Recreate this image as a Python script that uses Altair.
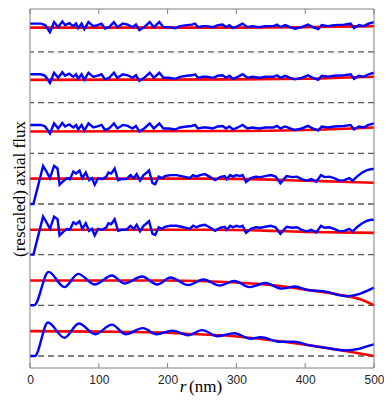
import altair as alt
import pandas as pd

# ---- data (r in nm, rescaled flux above each baseline) ----
tick_values = [0, 100, 200, 300, 400, 500]
baselines = [6, 5, 4, 3, 2, 1, 0]  # trace 1 (top) ... trace 7 (bottom)

# noisy blue profile shared by traces 1-3
blue_noisy_top = [
    (0, 0.56), (8, 0.56), (16, 0.56), (22, 0.53), (29, 0.39), (35, 0.59), (41, 0.49),
    (47, 0.60), (51, 0.53), (57, 0.57), (63, 0.51), (67, 0.56), (70, 0.47), (75, 0.56),
    (79, 0.45), (85, 0.59), (92, 0.51), (98, 0.53), (104, 0.56), (109, 0.46), (115, 0.49),
    (122, 0.59), (127, 0.49), (135, 0.56), (142, 0.54), (149, 0.49), (154, 0.54), (159, 0.43),
    (166, 0.49), (174, 0.59), (180, 0.49), (188, 0.59), (194, 0.49), (202, 0.49), (211, 0.47),
    (218, 0.51), (228, 0.53), (235, 0.54), (240, 0.56), (244, 0.49), (251, 0.51), (257, 0.51),
    (266, 0.49), (273, 0.53), (280, 0.54), (285, 0.49), (290, 0.53), (295, 0.47), (302, 0.51),
    (309, 0.56), (316, 0.49), (323, 0.51), (333, 0.49), (342, 0.51), (354, 0.51), (359, 0.54),
    (364, 0.49), (371, 0.53), (378, 0.49), (385, 0.46), (395, 0.49), (404, 0.54), (411, 0.49),
    (419, 0.45), (424, 0.53), (433, 0.51), (442, 0.53), (457, 0.54), (466, 0.56), (471, 0.47),
    (478, 0.53), (485, 0.51), (492, 0.56), (500, 0.59),
]

# noisy blue profile shared by traces 4-5
blue_noisy_mid = [
    (0, 0.0), (5, 0.0), (19, 0.75), (24, 0.64), (29, 0.51), (35, 0.75), (40, 0.70),
    (43, 0.38), (49, 0.46), (54, 0.51), (58, 0.49), (63, 0.64), (67, 0.60), (72, 0.66),
    (76, 0.51), (81, 0.62), (86, 0.47), (90, 0.51), (94, 0.38), (99, 0.51), (105, 0.49),
    (111, 0.54), (114, 0.62), (118, 0.60), (123, 0.70), (128, 0.47), (133, 0.49), (140, 0.49),
    (146, 0.57), (151, 0.51), (155, 0.59), (160, 0.46), (165, 0.57), (168, 0.60), (173, 0.66),
    (178, 0.41), (182, 0.39), (187, 0.54), (192, 0.51), (196, 0.55), (204, 0.57), (213, 0.57),
    (220, 0.55), (227, 0.53), (232, 0.51), (237, 0.57), (242, 0.54), (247, 0.57), (254, 0.59),
    (261, 0.54), (269, 0.47), (276, 0.53), (283, 0.55), (286, 0.49), (291, 0.57), (295, 0.54),
    (300, 0.57), (305, 0.55), (309, 0.57), (314, 0.43), (321, 0.51), (328, 0.54), (335, 0.53),
    (342, 0.55), (350, 0.57), (357, 0.54), (364, 0.41), (369, 0.49), (373, 0.55), (381, 0.53),
    (388, 0.54), (395, 0.49), (402, 0.46), (409, 0.49), (416, 0.44), (423, 0.57), (428, 0.53),
    (435, 0.54), (442, 0.51), (450, 0.46), (457, 0.47), (464, 0.51), (469, 0.46), (476, 0.55),
    (483, 0.62), (490, 0.67), (497, 0.69), (500, 0.69),
]

# smooth oscillating blue profiles (traces 6 and 7)
blue_osc_6 = [
    (0, 0.0), (6, 0.0), (27, 0.66), (50, 0.36), (70, 0.62), (94, 0.41), (119, 0.59),
    (137, 0.43), (163, 0.57), (185, 0.41), (204, 0.55), (230, 0.40), (252, 0.51), (276, 0.39),
    (297, 0.48), (319, 0.36), (342, 0.44), (366, 0.33), (385, 0.37), (404, 0.30), (425, 0.28),
    (461, 0.18), (478, 0.22), (497, 0.33), (500, 0.35),
]
blue_osc_7 = [
    (0, 0.0), (7, 0.0), (26, 0.66), (50, 0.36), (71, 0.64), (95, 0.43), (119, 0.62),
    (139, 0.43), (164, 0.55), (184, 0.43), (207, 0.50), (230, 0.41), (250, 0.51), (273, 0.39),
    (297, 0.45), (321, 0.34), (335, 0.37), (364, 0.28), (383, 0.28), (407, 0.21), (430, 0.16),
    (459, 0.11), (478, 0.14), (497, 0.22), (500, 0.23),
]

# red fits
red_1 = [(0, 0.48), (300, 0.48), (400, 0.49), (450, 0.50), (500, 0.51)]
red_2 = [(0, 0.45), (300, 0.46), (400, 0.47), (450, 0.49), (500, 0.51)]
red_3 = [(0, 0.43), (300, 0.44), (400, 0.46), (450, 0.48), (500, 0.51)]
red_4 = [(0, 0.50), (250, 0.50), (350, 0.48), (400, 0.46), (450, 0.44), (500, 0.42)]
red_5 = [(0, 0.49), (250, 0.49), (350, 0.47), (400, 0.45), (450, 0.44), (500, 0.43)]
red_6 = [(0, 0.49), (200, 0.49), (247, 0.48), (300, 0.45), (350, 0.40), (400, 0.31),
         (450, 0.21), (480, 0.12), (500, 0.0)]
red_7 = [(0, 0.49), (100, 0.48), (200, 0.46), (226, 0.44), (297, 0.39), (369, 0.28),
         (416, 0.19), (454, 0.11), (500, 0.0)]

noisy_series = [blue_noisy_top, blue_noisy_top, blue_noisy_top, blue_noisy_mid, blue_noisy_mid]
osc_series = [blue_osc_6, blue_osc_7]
red_series = [red_1, red_2, red_3, red_4, red_5, red_6, red_7]


# ---- build tables ----
def table(series_list, bases, kind):
    rows = []
    for k, (base, pts) in enumerate(zip(bases, series_list)):
        for i, (x, v) in enumerate(pts):
            rows.append({"trace": f"{kind}{k}", "r": x, "f": base + v, "order": i})
    return pd.DataFrame(rows)


blue_noisy_df = table(noisy_series, baselines[:5], "bn")
blue_osc_df = table(osc_series, baselines[5:], "bo")
red_df = table(red_series, baselines, "r")
base_df = pd.DataFrame({"f": baselines})
tick_df = pd.DataFrame({"r": tick_values})
frame_df = pd.DataFrame({"r0": [0], "r1": [500]})

W, H = 344, 359
xs = alt.Scale(domain=[0, 500], nice=False, zero=False)
ys = alt.Scale(domain=[-0.237, 6.848], nice=False, zero=False)

x_axis = alt.Axis(values=tick_values, title=None, grid=False, ticks=False, tickSize=0,
                  domain=False, labelFont="Liberation Sans", labelFontSize=12,
                  labelColor="#262626", labelPadding=6, labelFlush=False,
                  labelOverlap=False)
y_axis = alt.Axis(title="(rescaled) axial flux", labels=False, ticks=False, tickSize=0,
                  domain=False, grid=False, titleFont="Liberation Serif",
                  titleFontSize=17, titleFontWeight="normal", titleColor="black",
                  titlePadding=2)

dashed = alt.Chart(base_df).mark_rule(color="#5a5a5a", strokeWidth=1.3,
                                      strokeDash=[6, 4]).encode(
    y=alt.Y("f:Q", scale=ys, axis=y_axis)
)

red = alt.Chart(red_df).mark_line(color="#ff0000", strokeWidth=2.6,
                                  interpolate="monotone").encode(
    x=alt.X("r:Q", scale=xs, axis=x_axis),
    y=alt.Y("f:Q", scale=ys, axis=y_axis),
    detail="trace:N", order="order:Q",
)

blue_n = alt.Chart(blue_noisy_df).mark_line(color="#0000ff", strokeWidth=2.4).encode(
    x=alt.X("r:Q", scale=xs, axis=x_axis),
    y=alt.Y("f:Q", scale=ys, axis=y_axis),
    detail="trace:N", order="order:Q",
)

blue_o = alt.Chart(blue_osc_df).mark_line(color="#0000ff", strokeWidth=2.4,
                                          interpolate="monotone").encode(
    x=alt.X("r:Q", scale=xs, axis=x_axis),
    y=alt.Y("f:Q", scale=ys, axis=y_axis),
    detail="trace:N", order="order:Q",
)

ticks_bottom = alt.Chart(tick_df).mark_rule(color="#808080", strokeWidth=1).encode(
    x=alt.X("r:Q", scale=xs, axis=x_axis), y=alt.value(H), y2=alt.value(H - 5)
)
ticks_top = alt.Chart(tick_df).mark_rule(color="#808080", strokeWidth=1).encode(
    x=alt.X("r:Q", scale=xs, axis=x_axis), y=alt.value(0), y2=alt.value(5)
)

frame = alt.Chart(frame_df).mark_rect(fill=None, stroke="#808080", strokeWidth=1).encode(
    x=alt.X("r0:Q", scale=xs, axis=x_axis), x2="r1:Q",
    y=alt.value(0), y2=alt.value(H),
)

lab_r = alt.Chart(pd.DataFrame({"t": ["r"]})).mark_text(
    font="Liberation Serif", fontSize=17, fontStyle="italic", align="center",
    baseline="alphabetic", color="black"
).encode(text="t:N", x=alt.value(153), y=alt.value(383))

lab_nm = alt.Chart(pd.DataFrame({"t": ["(nm)"]})).mark_text(
    font="Liberation Serif", fontSize=17, align="left",
    baseline="alphabetic", color="black"
).encode(text="t:N", x=alt.value(159), y=alt.value(383))

chart = alt.layer(dashed, red, blue_n, blue_o, ticks_bottom, ticks_top, frame,
                  lab_r, lab_nm).properties(
    width=W, height=H,
    autosize=alt.AutoSizeParams(type="none"),
    padding={"left": 22, "top": 1, "right": 10, "bottom": 28},
    background="white",
).configure_view(stroke=None)

chart.save("out.html", embed_options={"renderer": "svg", "actions": False})
